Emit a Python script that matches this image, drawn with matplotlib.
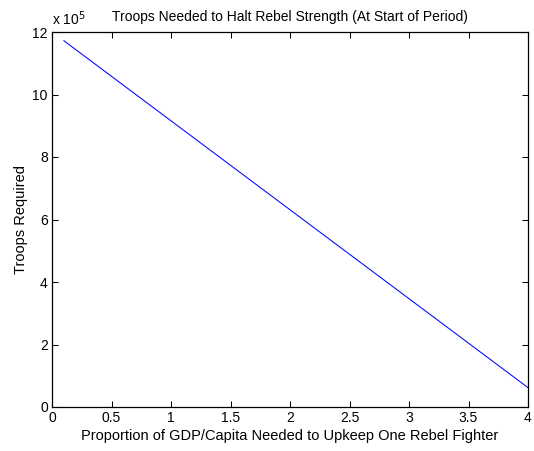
import matplotlib
matplotlib.use("Agg")
import matplotlib.pyplot as plt

# Data
gdp_proportion = [0.1, 4.0]
troops_required = [1172000, 62000]
x_ticks = [0, 0.5, 1, 1.5, 2, 2.5, 3, 3.5, 4]
x_tick_labels = ["0", "0.5", "1", "1.5", "2", "2.5", "3", "3.5", "4"]
y_ticks = [0, 200000, 400000, 600000, 800000, 1000000, 1200000]
y_tick_labels = ["0", "2", "4", "6", "8", "10", "12"]

plt.rcParams['font.family'] = ['Liberation Sans', 'DejaVu Sans']

fig = plt.figure(figsize=(5.34, 4.51), dpi=100)
ax = fig.add_axes([52/534, 1-407/451, (528-52)/534, (407-32)/451])

ax.plot(gdp_proportion, troops_required, color=(0, 0, 1), linewidth=0.75)
ax.set_xlim(0, 4)
ax.set_ylim(0, 1200000)
ax.set_xticks(x_ticks)
ax.set_xticklabels(x_tick_labels)
ax.set_yticks(y_ticks)
ax.set_yticklabels(y_tick_labels)
ax.tick_params(direction='in', top=True, right=True, length=4, width=0.75,
               labelsize=10, pad=3)
for s in ax.spines.values():
    s.set_linewidth(0.9)

ax.set_xlabel("Proportion of GDP/Capita Needed to Upkeep One Rebel Fighter", fontsize=10.5, labelpad=3)
ax.set_ylabel("Troops Required", fontsize=10.5, labelpad=3)
ax.set_title("Troops Needed to Halt Rebel Strength (At Start of Period)", fontsize=10, pad=8)
ax.text(0.0, 1.01, r"x 10$^{5}$", transform=ax.transAxes, fontsize=10,
        ha='left', va='bottom')

fig.savefig("out.png", dpi=100)
